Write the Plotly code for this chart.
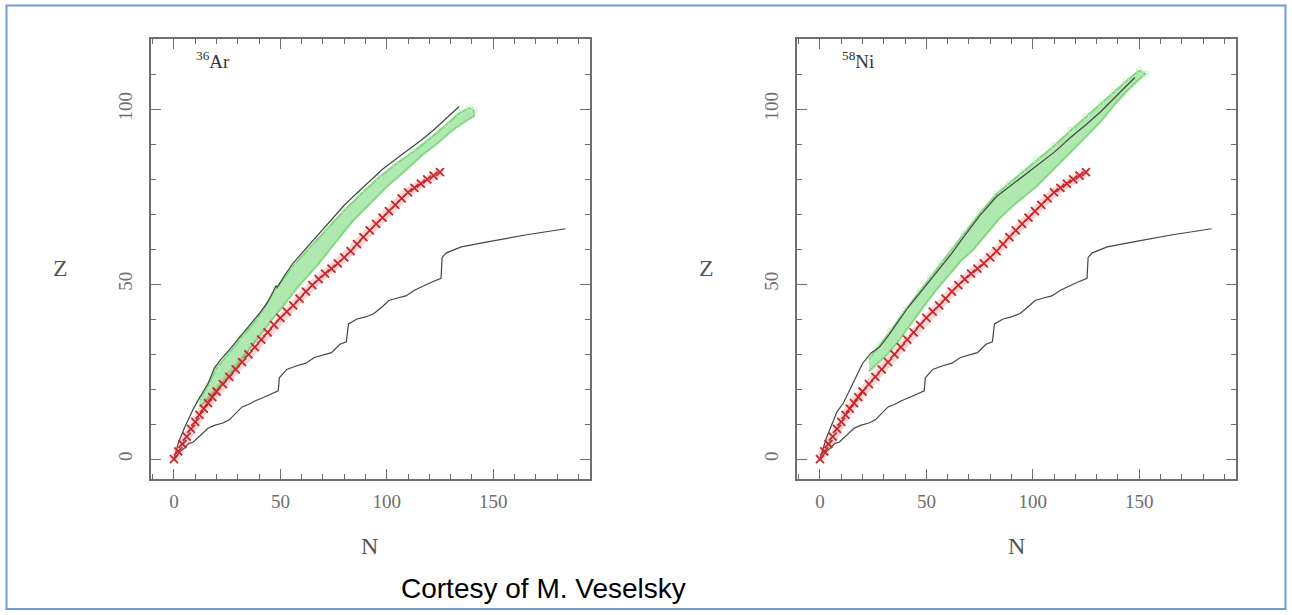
import plotly.graph_objects as go

W, H = 1292, 615

# ---------------- data ----------------
# red crosses (identical in both panels)
red_N = [0, 2, 4, 6, 8, 10, 12, 14, 16, 18, 20, 23, 26, 29, 32, 35, 38, 41, 44, 47,
         50, 53, 56, 59, 62, 65, 68, 71, 74, 77, 80, 83, 86, 89, 92, 95, 98, 101, 104,
         107, 110, 113, 116, 119, 122, 125]
red_Z = [0, 2.2, 4.3, 6.4, 8.6, 10.6, 12.6, 14.4, 16, 17.7, 19.3, 21.4, 23.5, 25.6, 27.7,
         29.9, 32, 34.1, 36.2, 38.3, 40.3, 42.1, 43.9, 45.8, 47.8, 49.7, 51.4, 53, 54.4,
         55.9, 57.6, 59.4, 61.4, 63.4, 65.3, 67.2, 69, 70.8, 72.6, 74.5, 76.2, 77.5, 78.7,
         79.9, 81, 82]

# lower stepped black line (identical in both panels)
lower_N = [0, 3, 5, 7, 9, 12, 14, 16, 19, 23, 26, 29, 32, 35, 38, 42, 46, 49, 49.5, 53,
           57, 62, 66, 70, 74, 78, 81, 82, 86, 90, 94, 98, 101, 105, 109, 113, 117, 121,
           125.5, 126, 128, 135, 148, 165, 184]
lower_Z = [0, 2.2, 3.2, 4.5, 4.8, 6.6, 7.5, 8.8, 9.6, 10.3, 11.2, 13, 14.9, 15.6, 16.6,
           17.6, 18.6, 19.5, 23.2, 25.6, 26.5, 27.4, 29, 29.6, 30.4, 32.8, 33.5, 38.6,
           40, 40.6, 41.6, 43.6, 45.3, 46, 46.6, 48.2, 49.4, 50.5, 51.6, 57.6, 58.9,
           60.6, 62.1, 64, 65.8]

# upper black line, left panel (36Ar)
upperL_N = [0, 2, 5, 8, 9, 12, 16, 19, 22, 25, 28, 32, 36, 40, 44, 48, 48.5, 52, 56, 60,
            64, 68, 74, 80, 86, 92, 98, 104, 110, 116, 122, 128, 134]
upperL_Z = [0, 4.5, 9, 13, 14.2, 17.5, 21.6, 26, 28.5, 30.5, 32.7, 35.5, 38.5, 41.5, 44.8,
            49.5, 49, 52.5, 56, 58.8, 61.6, 64.3, 68.3, 72.5, 76, 79.5, 82.8, 85.6, 88.2,
            91, 94, 97.3, 100.7]

# upper black line, right panel (58Ni)
upperR_N = [0, 3, 8, 11, 15, 20, 24, 28, 33, 41, 47, 52, 57, 62, 68, 75, 83, 89, 95, 102,
            110, 118, 125, 132, 138, 143, 148]
upperR_Z = [0, 6, 13.5, 16, 21, 27.3, 30.3, 32, 36, 43, 47.5, 51.3, 55, 58.8, 63.8, 69.5,
            75, 77.8, 80.6, 84, 87.6, 92, 95.5, 99.3, 102.8, 106, 109]

# green band, left panel: upper and lower edges
greenL_up_N = [12, 16, 20, 25, 32, 40, 48, 56, 64, 72, 80, 88, 96, 104, 112, 120, 128,
               134, 139, 141]
greenL_up_Z = [16.8, 21, 26, 29.8, 34.8, 40.8, 48.7, 55.2, 60.6, 65.8, 71, 75.8, 80.3,
               84.2, 87.6, 91.4, 95.6, 98.8, 100.3, 99.5]
greenL_lo_N = [12, 15, 20, 27, 36, 47, 58, 68, 76, 84, 92, 100, 108, 116, 124, 131, 137,
               141]
greenL_lo_Z = [15, 16.5, 20, 24.5, 32, 40.5, 49, 55.8, 62, 68, 73, 77.8, 82, 86.5, 90.3,
               94, 96.5, 98]

# green band, right panel: upper and lower edges
greenR_up_N = [23, 28, 33, 40, 47, 52, 57, 62, 68, 75, 83, 89, 95, 102, 110, 118, 125,
               132, 138, 144, 150, 153]
greenR_up_Z = [28.5, 32.5, 36.5, 42.5, 48, 51.8, 55.8, 59.8, 64.5, 70.2, 75.8, 78.8, 81.8,
               85.5, 89.5, 94, 97.8, 101.5, 104.8, 108, 111, 110]
greenR_lo_N = [23, 26, 31, 36, 42, 48, 54, 60, 66, 72, 78, 84, 90, 96, 102, 108, 114, 120,
               126, 132, 138, 144, 150, 153]
greenR_lo_Z = [25, 26.8, 29.5, 33, 38, 43, 47.8, 52.3, 56.5, 59.8, 64, 68.5, 72, 75, 78,
               81.5, 85.3, 89, 92.7, 96.5, 101, 105, 108.5, 110]

x_ticks = [0, 50, 100, 150]
y_ticks = [0, 50, 100]
labels = ["<sup>36</sup>Ar", "<sup>58</sup>Ni"]
credit = "Cortesy of M. Veselsky"

# ---------------- figure ----------------
def fx(p):
    return p / W

def fy(p):
    return 1 - p / H

GREEN_FILL = "rgba(150,225,150,0.75)"
GREEN_LINE = "rgba(120,210,120,0.85)"
RED = "#c8252a"
BLACK = "#454545"
GRAY = "#6e6e6e"

fig = go.Figure()

panels = [
    ("x", "y", upperL_N, upperL_Z, greenL_up_N, greenL_up_Z, greenL_lo_N, greenL_lo_Z),
    ("x2", "y2", upperR_N, upperR_Z, greenR_up_N, greenR_up_Z, greenR_lo_N, greenR_lo_Z),
]

for xa, ya, uN, uZ, gupN, gupZ, gloN, gloZ in panels:
    poly_N = list(gupN) + list(gloN)[::-1]
    poly_Z = list(gupZ) + list(gloZ)[::-1]
    fig.add_trace(go.Scatter(x=poly_N, y=poly_Z, fill="toself", fillcolor=GREEN_FILL,
                             mode="lines", line=dict(color=GREEN_LINE, width=2),
                             xaxis=xa, yaxis=ya, showlegend=False, hoverinfo="skip"))
    fig.add_trace(go.Scatter(x=gupN, y=gupZ, mode="markers",
                             marker=dict(symbol="circle-open", size=6,
                                         color="rgba(190,240,190,0.9)", line=dict(width=1)),
                             xaxis=xa, yaxis=ya, showlegend=False, hoverinfo="skip"))
    fig.add_trace(go.Scatter(x=uN, y=uZ, mode="lines", line=dict(color=BLACK, width=1.2),
                             xaxis=xa, yaxis=ya, showlegend=False))
    fig.add_trace(go.Scatter(x=lower_N, y=lower_Z, mode="lines",
                             line=dict(color=BLACK, width=1.2),
                             xaxis=xa, yaxis=ya, showlegend=False))
    fig.add_trace(go.Scatter(x=red_N, y=red_Z, mode="lines",
                             line=dict(color="rgba(220,70,70,0.22)", width=9),
                             xaxis=xa, yaxis=ya, showlegend=False, hoverinfo="skip"))
    fig.add_trace(go.Scatter(x=red_N, y=red_Z, mode="markers",
                             marker=dict(symbol="x-thin", size=8,
                                         line=dict(color=RED, width=1.8)),
                             xaxis=xa, yaxis=ya, showlegend=False))

tickfont = dict(family="Liberation Serif", size=19, color=GRAY)
common = dict(showline=True, linecolor=GRAY, linewidth=1.5, mirror="allticks",
              ticks="inside", ticklen=10, tickwidth=1.3, tickcolor=GRAY,
              showgrid=False, zeroline=False, tickfont=tickfont)

xdom1 = [fx(151), fx(590)]
xdom2 = [fx(797), fx(1236)]
ydom = [fy(479), fy(39)]

xcfg = dict(common, range=[-10.8, 195.5], tickvals=x_ticks,
            minor=dict(ticks="inside", ticklen=5, tick0=0, dtick=10, tickcolor=GRAY,
                       tickwidth=1.1),
            ticklabelstandoff=4)
ycfg = dict(common, range=[-5.7, 120], tickvals=y_ticks, tickangle=-90,
            minor=dict(ticks="inside", ticklen=5, tick0=0, dtick=10, tickcolor=GRAY,
                       tickwidth=1.1),
            ticklabelstandoff=10)

fig.update_layout(
    width=W, height=615, autosize=False,
    margin=dict(l=0, r=0, t=0, b=0),
    paper_bgcolor="white", plot_bgcolor="white",
    xaxis=dict(xcfg, domain=xdom1, anchor="y"),
    yaxis=dict(ycfg, domain=ydom, anchor="x"),
    xaxis2=dict(xcfg, domain=xdom2, anchor="y2"),
    yaxis2=dict(ycfg, domain=ydom, anchor="x2"),
)

annots = []
serif = dict(family="Liberation Serif", color="#555")
for off, lab in zip([0, 646], labels):
    annots.append(dict(x=fx(60 + off), y=fy(268), xref="paper", yref="paper", text="Z",
                       showarrow=False, font=dict(serif, size=24),
                       xanchor="center", yanchor="middle"))
    annots.append(dict(x=fx(370 + off), y=fy(546), xref="paper", yref="paper", text="N",
                       showarrow=False, font=dict(serif, size=24),
                       xanchor="center", yanchor="middle"))
    annots.append(dict(x=fx(194 + off), y=fy(60), xref="paper", yref="paper", text=lab,
                       showarrow=False, font=dict(family="Liberation Serif", size=19,
                                                  color="#333"),
                       xanchor="left", yanchor="middle"))
annots.append(dict(x=fx(543), y=fy(588), xref="paper", yref="paper", text=credit,
                   showarrow=False, font=dict(family="Liberation Sans", size=28,
                                              color="#000"),
                   xanchor="center", yanchor="middle"))
fig.update_layout(annotations=annots)

fig.add_shape(type="rect", xref="paper", yref="paper",
              x0=fx(6.5), x1=fx(1285.5), y0=fy(609), y1=fy(5.5),
              line=dict(color="#6f9ad2", width=2), fillcolor="rgba(0,0,0,0)", layer="below")

fig.write_html("out.html")
